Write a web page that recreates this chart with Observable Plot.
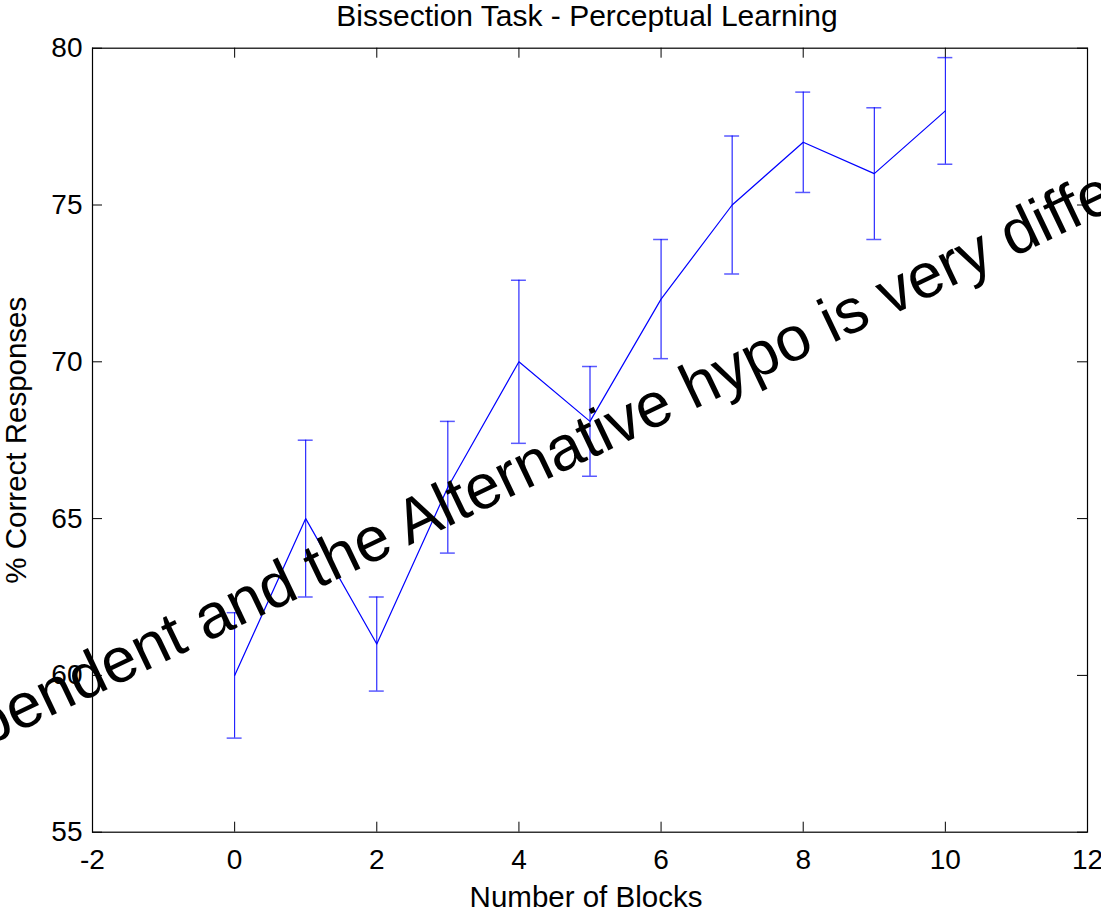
<!DOCTYPE html>
<html>
<head>
<meta charset="utf-8">
<script src="https://cdn.jsdelivr.net/npm/d3@7"></script>
<script src="https://cdn.jsdelivr.net/npm/@observablehq/plot@0.6"></script>
<style>
  html, body { margin: 0; padding: 0; background: #fff; overflow: hidden; }
  #chart svg { overflow: hidden; }
</style>
</head>
<body>
<div id="chart"></div>
<script>
// ---- data ----
const blocks = [0, 1, 2, 3, 4, 5, 6, 7, 8, 9, 10];
const meanCorrect = [60, 65, 61, 66, 70, 68.1, 72, 75, 77, 76, 78];
const errorHalf = [2.0, 2.5, 1.5, 2.1, 2.6, 1.75, 1.9, 2.2, 1.6, 2.1, 1.7];
const xTicks = [-2, 0, 2, 4, 6, 8, 10, 12];
const yTicks = [55, 60, 65, 70, 75, 80];
const titleText = "Bissection Task - Perceptual Learning";
const xLabel = "Number of Blocks";
const yLabel = "% Correct Responses";
const overlayText = "Independent and the Alternative hypo is very different";
const overlayPos = [{x: 4.25, y: 66.8}];
const capHalf = 0.105;

const rows = blocks.map((b, i) => ({x: b, y: meanCorrect[i], lo: meanCorrect[i] - errorHalf[i], hi: meanCorrect[i] + errorHalf[i]}));

const W = 1101, H = 916;
const mL = 92, mR = 14, mT = 47.7, mB = 84.3;
const fw = W - mL - mR, fh = H - mT - mB;
const tickLen = 10;
const font = "Liberation Sans, Arial, Helvetica, sans-serif";

const chart = Plot.plot({
  width: W,
  height: H,
  marginLeft: mL, marginRight: mR, marginTop: mT, marginBottom: mB,
  style: {fontFamily: font, fontSize: "28px", background: "#fff", color: "#000"},
  x: {domain: [-2, 12], axis: null},
  y: {domain: [55, 80], axis: null},
  marks: [
    Plot.frame({stroke: "#000", strokeWidth: 1.2}),
    // inward ticks on all four sides
    Plot.tickX(xTicks, {x: d => d, insetTop: fh - tickLen, stroke: "#000"}),
    Plot.tickX(xTicks, {x: d => d, insetBottom: fh - tickLen, stroke: "#000"}),
    Plot.tickY(yTicks, {y: d => d, insetRight: fw - tickLen, stroke: "#000"}),
    Plot.tickY(yTicks, {y: d => d, insetLeft: fw - tickLen, stroke: "#000"}),
    // tick labels
    Plot.text(xTicks, {x: d => d, text: d => String(d), frameAnchor: "bottom", lineAnchor: "middle", dy: 28, fontSize: 28, fill: "#000"}),
    Plot.text(yTicks, {y: d => d, text: d => String(d), frameAnchor: "left", textAnchor: "end", lineAnchor: "middle", dx: -10, fontSize: 28, fill: "#000"}),
    // error bars
    Plot.ruleX(rows, {x: "x", y1: "lo", y2: "hi", stroke: "#0000ff", strokeWidth: 1}),
    Plot.ruleY(rows, {y: "hi", x1: d => d.x - capHalf, x2: d => d.x + capHalf, stroke: "#0000ff", strokeOpacity: 0.65, strokeWidth: 1.5}),
    Plot.ruleY(rows, {y: "lo", x1: d => d.x - capHalf, x2: d => d.x + capHalf, stroke: "#0000ff", strokeOpacity: 0.65, strokeWidth: 1.5}),
    // mean line
    Plot.line(rows, {x: "x", y: "y", stroke: "#0000ff", strokeWidth: 1.2}),
    // title and axis labels
    Plot.text([titleText], {text: d => d, frameAnchor: "top", lineAnchor: "middle", dx: -3, dy: -32.3, fontSize: 30, fill: "#000"}),
    Plot.text([xLabel], {text: d => d, frameAnchor: "bottom", lineAnchor: "middle", dx: -4, dy: 65.7, fontSize: 29.5, fill: "#000"}),
    Plot.text([yLabel], {text: d => d, frameAnchor: "left", textAnchor: "middle", lineAnchor: "middle", rotate: -90, dx: -75.5, fontSize: 29.5, fill: "#000"}),
    // overlay text
    Plot.text(overlayPos, {x: "x", y: "y", text: () => overlayText, textAnchor: "middle", lineAnchor: "middle", rotate: -25.5, fontSize: 63, fill: "#000"})
  ]
});
document.getElementById("chart").appendChild(chart);
</script>
</body>
</html>
